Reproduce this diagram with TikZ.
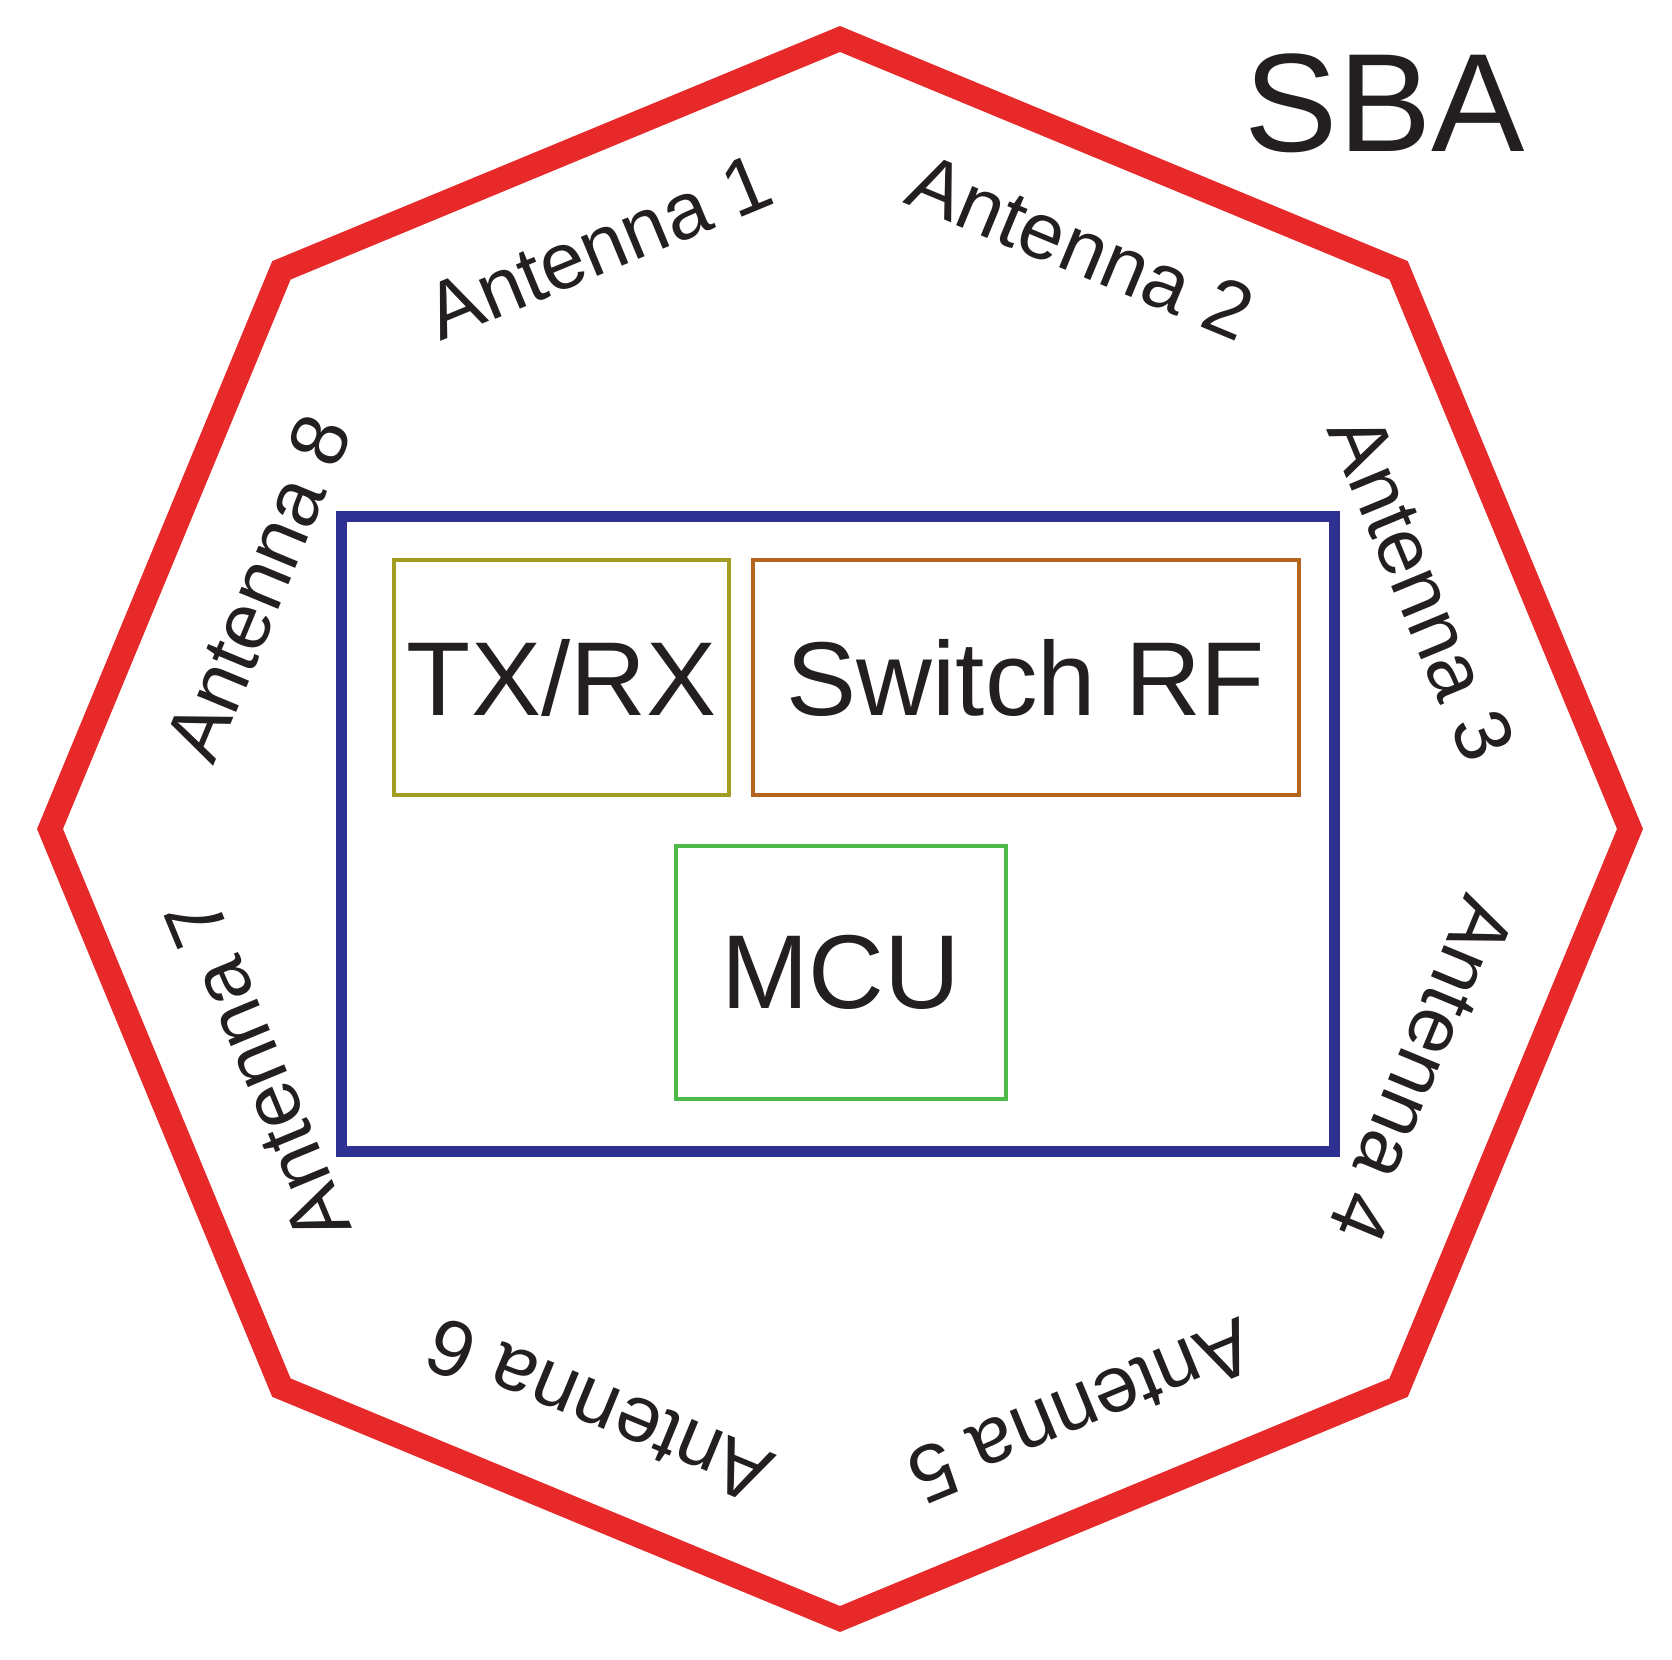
\documentclass[tikz,border=0pt]{standalone}
\usepackage{fontspec}
\setmainfont{Liberation Sans}
\usetikzlibrary{calc}
\definecolor{oct}{HTML}{E8292A}
\definecolor{frame}{HTML}{2E3192}
\definecolor{txc}{HTML}{A39E22}
\definecolor{swc}{HTML}{B5651D}
\definecolor{mcuc}{HTML}{4DBA4A}
\definecolor{ink}{HTML}{231F20}
\begin{document}
\begin{tikzpicture}[x=1pt,y=1pt,
  ant/.style={text=ink,font=\fontsize{80}{80}\selectfont,inner sep=0pt},
  box/.style={line width=4.5pt,inner sep=0pt,text=ink,font=\fontsize{105}{105}\selectfont}]
\useasboundingbox (0,0) rectangle (1672,1659);
\coordinate (c) at (840,830);
\draw[oct,line width=24pt,line join=miter]
  ($(c)+(0:790)$) \foreach \a in {45,90,...,315}{ -- ($(c)+(\a:790)$)} -- cycle;
\foreach \i/\a in {1/112.5,2/67.5,3/22.5,4/-22.5,5/-67.5,6/-112.5,7/-157.5,8/157.5}{
  \node[ant,rotate=\a-90] (a\i) at ($(c)+(\a:630)$) {Antenna \i};
}
\node[text=ink,font=\fontsize{140}{140}\selectfont,inner sep=0pt] (sba) at (1385,1556) {SBA};
\draw[frame,line width=11pt] (341,507) rectangle (1334,1142);
\node[box,draw=txc,minimum width=335pt,minimum height=235pt] (tx) at (561.5,981.5) {TX/RX};
\node[box,draw=swc,minimum width=546pt,minimum height=235pt] (sw) at (1026,981.5) {Switch RF};
\node[box,draw=mcuc,minimum width=330pt,minimum height=253pt] (mcu) at (841,686.5) {MCU};
\end{tikzpicture}
\end{document}
